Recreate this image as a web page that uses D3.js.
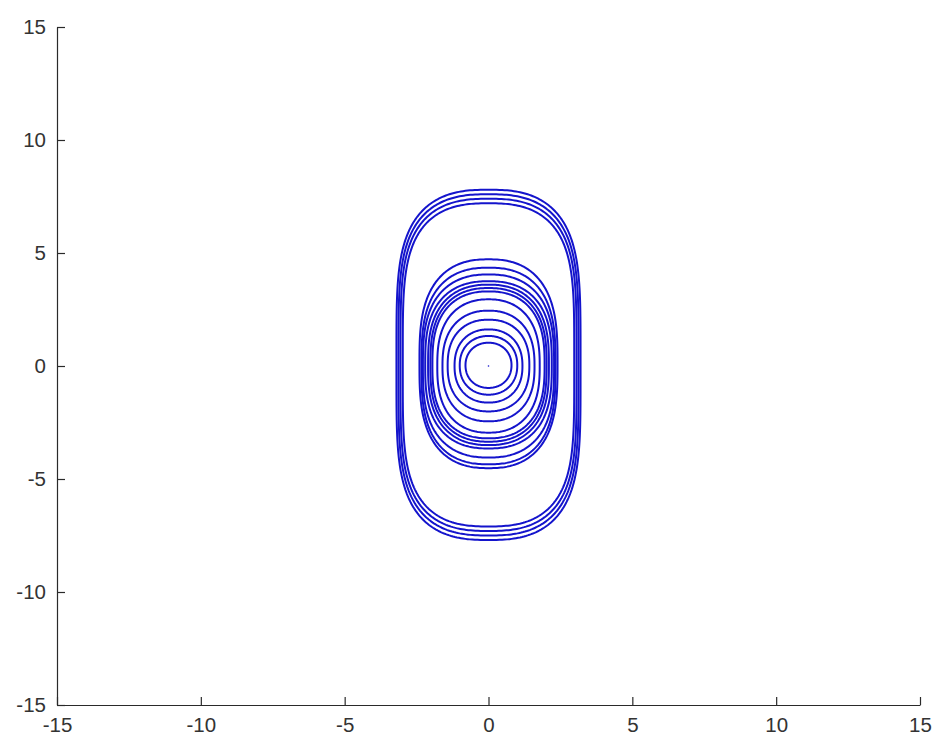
<!DOCTYPE html>
<html>
<head>
<meta charset="UTF-8">
<script src="https://cdn.jsdelivr.net/npm/d3@7"></script>
<style>
body { margin: 0; background: #fff; }
.tick text { font-family: "Liberation Sans", Arial, sans-serif; font-size: 20.5px; fill: #333; }
</style>
</head>
<body>
<script>

// closed orbits: half widths, half heights, x / y squareness, vertical shift
var orbitX  = [0.80, 1.00, 1.18, 1.42, 1.60, 1.78, 1.95, 2.02, 2.10, 2.20, 2.28, 2.33, 2.40, 2.98, 3.06, 3.13, 3.20];
var orbitY  = [1.00, 1.30, 1.62, 2.03, 2.45, 2.95, 3.25, 3.40, 3.55, 3.70, 4.05, 4.35, 4.62, 7.15, 7.35, 7.55, 7.75];
var orbitP  = [2.1, 2.1, 2.15, 2.2, 2.2, 2.25, 2.3, 2.3, 2.3, 2.35, 2.35, 2.4, 2.4, 2.6, 2.6, 2.6, 2.6];
var orbitQ  = [2.1, 2.2, 2.3, 2.4, 2.5, 2.6, 2.7, 2.75, 2.8, 2.85, 2.9, 3.0, 3.0, 4.3, 4.3, 4.3, 4.3];
var orbitDy = [0.03, 0.03, 0.0, 0.02, 0.0, 0.0, 0.05, 0.05, 0.05, 0.05, 0.0, 0.0, 0.1, 0.05, 0.05, 0.05, 0.05];

var xTicks = [-15, -10, -5, 0, 5, 10, 15];
var yTicks = [-15, -10, -5, 0, 5, 10, 15];

var fullwidth = 942;
var fullheight = 745;
var margin = {left: 57, top: 27, right: 22, bottom: 40};
var width = fullwidth - margin.left - margin.right;
var height = fullheight - margin.top - margin.bottom;

var svg = d3.select('body')
    .append('svg')
    .attr('width', fullwidth)
    .attr('height', fullheight)
    .append('g')
    .attr('transform', 'translate(' + margin.left + ',' + margin.top + ')');

var x = d3.scaleLinear().domain([-15, 15]).range([0, width]);
var y = d3.scaleLinear().domain([-15, 15]).range([height, 0]);

var line = d3.line()
    .x(function(d) { return x(d[0]); })
    .y(function(d) { return y(d[1]); })
    .curve(d3.curveLinearClosed);

var angles = d3.range(0, 2 * Math.PI, Math.PI / 150);

function orbit(i) {
    var ex = 2 / orbitP[i], ey = 2 / orbitQ[i];
    return angles.map(function(t) {
        var c = Math.cos(t), s = Math.sin(t);
        return [orbitX[i] * Math.sign(c) * Math.pow(Math.abs(c), ex),
                orbitDy[i] + orbitY[i] * Math.sign(s) * Math.pow(Math.abs(s), ey)];
    });
}

svg.append('g')
    .selectAll('path')
    .data(d3.range(orbitX.length))
    .enter().append('path')
    .attr('d', function(i) { return line(orbit(i)); })
    .attr('fill', 'none')
    .attr('stroke', '#1414cc')
    .attr('stroke-width', 2);

// equilibrium point
svg.append('circle')
    .attr('cx', x(0)).attr('cy', y(0)).attr('r', 0.8)
    .attr('fill', '#1414cc');

var fmt = function(d) { return String(d); };

var xAxis = svg.append('g')
    .attr('transform', 'translate(0,' + height + ')')
    .call(d3.axisBottom(x).tickValues(xTicks).tickFormat(fmt).tickSizeInner(-8).tickSizeOuter(0).tickPadding(11));

var yAxis = svg.append('g')
    .call(d3.axisLeft(y).tickValues(yTicks).tickFormat(fmt).tickSizeInner(-8).tickSizeOuter(0).tickPadding(11));

svg.selectAll('.domain').attr('stroke', '#2a2a2a').attr('stroke-width', 1.2);
svg.selectAll('.tick line').attr('stroke', '#2a2a2a').attr('stroke-width', 1.2);
xAxis.selectAll('.tick text').attr('dy', '0.8em');

</script>
</body>
</html>
